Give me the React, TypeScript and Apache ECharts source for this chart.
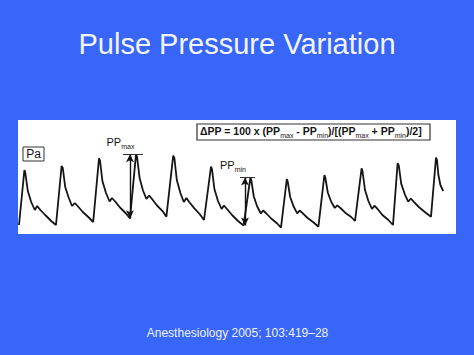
import React, { useEffect, useRef } from "react";
import * as echarts from "echarts";

// Arterial pressure trace: time (s) and pressure (mmHg)
const times: number[] = [
  0.025, 0.16, 0.18, 0.245, 0.33, 0.42, 0.48, 0.56, 0.68, 0.83,
  0.95, 1.09, 1.12, 1.18, 1.27, 1.35, 1.42, 1.49, 1.62, 1.77,
  1.88, 2.025, 2.05, 2.11, 2.2, 2.29, 2.35, 2.43, 2.55, 2.7,
  2.8, 2.95, 2.975, 3.04, 3.125, 3.21, 3.28, 3.35, 3.475, 3.625,
  3.71, 3.88, 3.91, 3.97, 4.06, 4.145, 4.21, 4.28, 4.41, 4.55,
  4.65, 4.825, 4.85, 4.91, 5.0, 5.09, 5.15, 5.225, 5.35, 5.5,
  5.64, 5.81, 5.83, 5.895, 5.98, 6.07, 6.13, 6.21, 6.33, 6.48,
  6.575, 6.72, 6.74, 6.805, 6.89, 6.98, 7.04, 7.12, 7.24, 7.39,
  7.51, 7.66, 7.68, 7.745, 7.83, 7.92, 7.98, 8.06, 8.18, 8.33,
  8.425, 8.59, 8.61, 8.675, 8.76, 8.85, 8.91, 8.99, 9.11, 9.26,
  9.375, 9.49, 9.52, 9.58, 9.67, 9.755, 9.82, 9.89, 10.02, 10.17,
  10.325, 10.45, 10.475, 10.51, 10.56, 10.63,
];
const pressures: number[] = [
  59, 114, 112, 93, 82, 74, 78, 74, 69, 63,
  59, 118, 116, 97, 86, 78, 81, 78, 72, 66.5,
  62, 125.7, 123.5, 103, 91, 82.5, 86, 82.5, 76.5, 70.5,
  65.7, 129.7, 127.5, 106, 93.5, 85, 88.5, 85, 78.5, 72.3,
  67.3, 128.3, 126, 104, 91, 82, 86, 82, 75.6, 69.5,
  64, 117.3, 115, 95, 83, 75, 78.5, 75, 69, 63,
  58.5, 106.5, 104.5, 87.5, 77.5, 70.5, 73.5, 70.5, 65.5, 60.5,
  56.3, 105, 103, 87, 77.5, 70.7, 73.5, 70.7, 66, 61.5,
  57.3, 109, 107, 91.5, 82.3, 76, 78.6, 76, 71.3, 67,
  63, 115.7, 113.5, 94, 83, 75, 78.3, 75, 69, 64,
  59, 120.7, 118.5, 100.4, 89.7, 82.3, 85.5, 82.3, 77, 72,
  67.3, 126.3, 124, 109, 99, 93,
];

// PPmax = beat 4 (foot index 30, peak 31); PPmin = beat 7 (foot 60, peak 61)
const ppMax = { foot: 30, peak: 31, arrowTime: 2.8, tick: [2.625, 3.125] };
const ppMin = { foot: 60, peak: 61, arrowTime: 5.675, tick: [5.55, 5.925] };

const titleText = "Pulse Pressure Variation";
const sourceText = "Anesthesiology 2005; 103:419\u201328";
const FONT = "'Liberation Sans', Arial, Helvetica, sans-serif";
const INK = "#151515";

function arrowPair(a: typeof ppMax) {
  return [
    { coord: [a.arrowTime, pressures[a.foot]], symbol: "arrow", symbolSize: [6, 8] },
    { coord: [a.arrowTime, pressures[a.peak]], symbol: "arrow", symbolSize: [6, 8] },
  ];
}
function tickPair(a: typeof ppMax) {
  return [
    { coord: [a.tick[0], pressures[a.peak]], symbol: "none", lineStyle: { width: 1, color: "#333" } },
    { coord: [a.tick[1], pressures[a.peak]], symbol: "none" },
  ];
}

const richMain = { fontFamily: FONT, fontSize: 11, lineHeight: 12, padding: [0, 0, 2, 0], fill: INK, color: INK };
const richSub = { fontFamily: FONT, fontSize: 7, lineHeight: 7, padding: [7, 0, 0, 0], fill: INK, color: INK };

export default function App() {
  const ref = useRef<HTMLDivElement>(null);
  useEffect(() => {
    if (!ref.current) return;
    const chart = echarts.init(ref.current, undefined, { renderer: "svg" });
    const data = times.map((t, i) => [t, pressures[i]]);
    chart.setOption({
      animation: false,
      backgroundColor: "#3866F8",
      grid: { left: 18, right: 18, top: 120, bottom: 121, show: true, backgroundColor: "#ffffff", borderWidth: 0 },
      xAxis: { type: "value", min: 0, max: 10.95, show: false },
      yAxis: { type: "value", min: 50, max: 164, show: false },
      series: [
        {
          type: "line",
          data,
          symbol: "none",
          showSymbol: false,
          lineStyle: { color: INK, width: 1.8 },
          markLine: {
            silent: true,
            symbol: ["none", "none"],
            label: { show: false },
            lineStyle: { color: "#111", type: "solid", width: 1.4 },
            data: [arrowPair(ppMax), arrowPair(ppMin), tickPair(ppMax), tickPair(ppMin)],
          },
        },
      ],
      graphic: [
        {
          type: "text",
          x: 237,
          y: 44,
          style: { text: titleText, font: `29px ${FONT}`, fill: "#F2F5FF", align: "center", verticalAlign: "middle" },
        },
        {
          type: "text",
          x: 237.5,
          y: 332.5,
          style: { text: sourceText, font: `12px ${FONT}`, fill: "#EEF1FF", align: "center", verticalAlign: "middle" },
        },
        {
          type: "rect",
          shape: { x: 23, y: 147, width: 21, height: 14 },
          style: { fill: "#fff", stroke: "#333", lineWidth: 1 },
        },
        {
          type: "text",
          x: 33.5,
          y: 154,
          style: { text: "Pa", font: `12px ${FONT}`, fill: INK, align: "center", verticalAlign: "middle" },
        },
        {
          type: "rect",
          shape: { x: 197, y: 124, width: 233, height: 16 },
          style: { fill: "#fff", stroke: "#333", lineWidth: 1.2 },
        },
        {
          type: "text",
          x: 200,
          y: 132,
          style: {
            text:
              "{a|\u0394PP = 100 x (PP}{s|max}{a| - PP}{s|min}{a|)/[(PP}{s|max}{a| + PP}{s|min}{a|)/2]}",
            align: "left",
            verticalAlign: "middle",
            fill: INK,
            rich: {
              a: { ...richMain, fontSize: 10.5, fontWeight: "bold" },
              s: { ...richSub },
            },
          },
        },
        {
          type: "text",
          x: 106.5,
          y: 136.5,
          style: {
            text: "{a|PP}{s|max}",
            align: "left",
            verticalAlign: "top",
            fill: INK,
            rich: { a: richMain, s: richSub },
          },
        },
        {
          type: "text",
          x: 220,
          y: 160,
          style: {
            text: "{a|PP}{s|min}",
            align: "left",
            verticalAlign: "top",
            fill: INK,
            rich: { a: richMain, s: richSub },
          },
        },
      ],
    });
    return () => chart.dispose();
  }, []);
  return (
    <div
      ref={ref}
      style={{ position: "fixed", left: 0, top: 0, width: 474, height: 355 }}
    />
  );
}
